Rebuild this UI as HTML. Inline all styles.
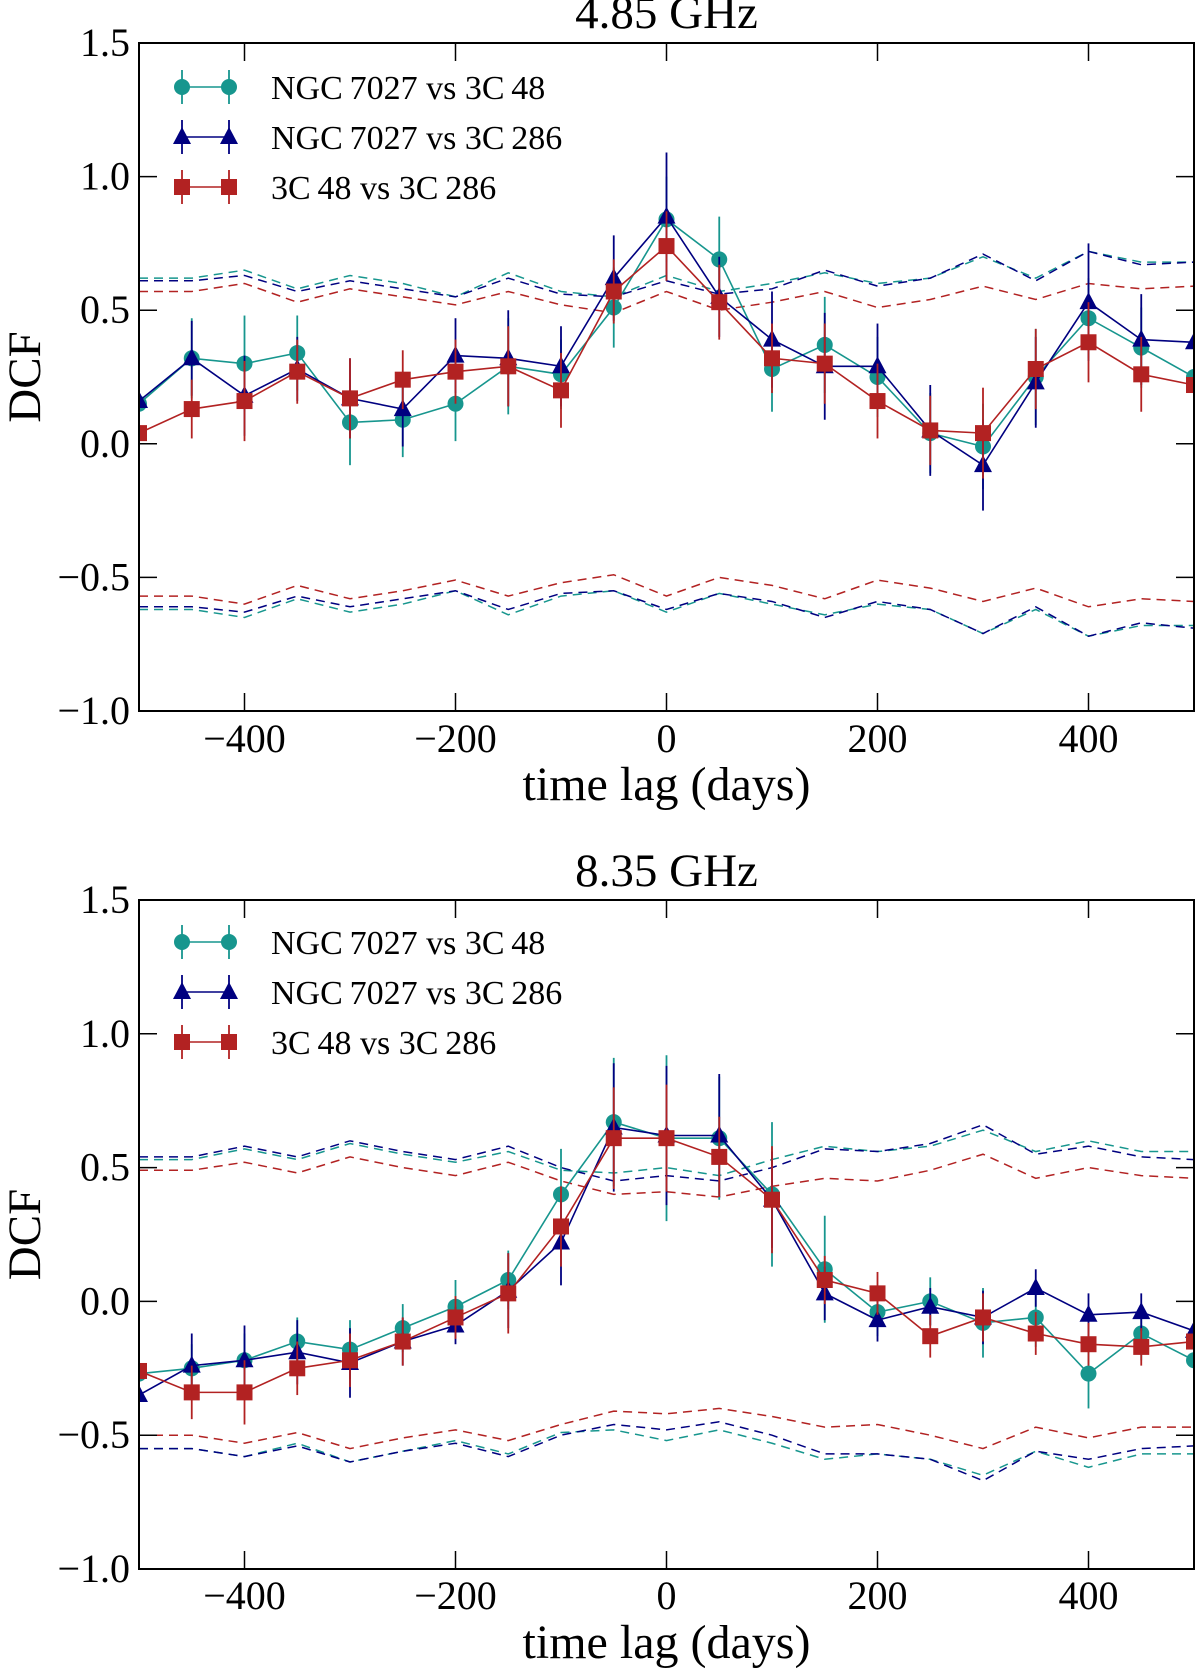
<!DOCTYPE html>
<html><head><meta charset="utf-8"><style>
html,body{margin:0;padding:0;background:#fff;}
svg{display:block;font-family:"Liberation Serif",serif;}
</style></head><body>
<svg id="chart" width="1200" height="1671" viewBox="0 0 1200 1671" xmlns="http://www.w3.org/2000/svg"></svg>
<script>
const lags = [-500,-450,-400,-350,-300,-250,-200,-150,-100,-50,0,50,100,150,200,250,300,350,400,450,500];
const xTicks = [-400,-200,0,200,400];
const yTicks = [-1.0,-0.5,0.0,0.5,1.0,1.5];
const yTickLabels = ["\u22121.0","\u22120.5","0.0","0.5","1.0","1.5"];
const seriesNames = ["NGC\u20097027 vs 3C\u200948","NGC\u20097027 vs 3C\u2009286","3C\u200948 vs 3C\u2009286"];
const panelTitles = ["4.85 GHz","8.35 GHz"];

// 4.85 GHz
const a_teal = [0.15,0.32,0.30,0.34,0.08,0.09,0.15,0.29,0.26,0.51,0.84,0.69,0.28,0.37,0.25,0.04,-0.01,0.25,0.47,0.36,0.25];
const a_navy = [0.16,0.32,0.18,0.28,0.17,0.13,0.33,0.32,0.29,0.62,0.85,0.55,0.39,0.29,0.29,0.05,-0.08,0.23,0.53,0.39,0.38];
const a_red  = [0.04,0.13,0.16,0.27,0.17,0.24,0.27,0.29,0.20,0.57,0.74,0.53,0.32,0.30,0.16,0.05,0.04,0.28,0.38,0.26,0.22];
const a_teal_err = [0.14,0.15,0.18,0.14,0.16,0.14,0.14,0.18,0.13,0.15,0.16,0.16,0.16,0.18,0.15,0.15,0.16,0.18,0.15,0.15,0.15];
const a_navy_err = [0.14,0.14,0.15,0.12,0.15,0.14,0.14,0.18,0.15,0.16,0.24,0.15,0.18,0.20,0.16,0.17,0.17,0.17,0.22,0.17,0.15];
const a_red_err  = [0.12,0.11,0.15,0.12,0.15,0.11,0.12,0.15,0.14,0.12,0.13,0.14,0.13,0.15,0.14,0.13,0.17,0.15,0.15,0.14,0.14];
const a_teal_up = [0.62,0.62,0.65,0.58,0.63,0.60,0.55,0.64,0.57,0.55,0.63,0.57,0.60,0.64,0.60,0.62,0.70,0.62,0.72,0.68,0.68];
const a_navy_up = [0.61,0.61,0.63,0.57,0.61,0.58,0.55,0.62,0.56,0.55,0.61,0.56,0.58,0.65,0.59,0.62,0.71,0.61,0.72,0.67,0.68];
const a_red_up  = [0.57,0.57,0.60,0.53,0.58,0.55,0.52,0.57,0.52,0.49,0.57,0.50,0.53,0.57,0.51,0.54,0.59,0.54,0.60,0.58,0.59];
const a_teal_lo = [-0.62,-0.62,-0.65,-0.58,-0.63,-0.60,-0.55,-0.64,-0.57,-0.55,-0.63,-0.56,-0.60,-0.64,-0.60,-0.62,-0.71,-0.62,-0.72,-0.68,-0.68];
const a_navy_lo = [-0.61,-0.61,-0.63,-0.57,-0.61,-0.58,-0.55,-0.62,-0.56,-0.55,-0.62,-0.56,-0.59,-0.65,-0.59,-0.62,-0.71,-0.61,-0.72,-0.67,-0.69];
const a_red_lo  = [-0.57,-0.57,-0.60,-0.53,-0.58,-0.55,-0.51,-0.57,-0.52,-0.49,-0.57,-0.50,-0.53,-0.58,-0.51,-0.54,-0.59,-0.54,-0.61,-0.58,-0.59];

// 8.35 GHz
const b_teal = [-0.27,-0.25,-0.22,-0.15,-0.18,-0.10,-0.02,0.08,0.40,0.67,0.61,0.61,0.40,0.12,-0.04,0.00,-0.08,-0.06,-0.27,-0.12,-0.22];
const b_navy = [-0.35,-0.24,-0.22,-0.19,-0.23,-0.15,-0.09,0.04,0.22,0.65,0.62,0.62,0.38,0.03,-0.07,-0.02,-0.06,0.05,-0.05,-0.04,-0.11];
const b_red  = [-0.26,-0.34,-0.34,-0.25,-0.22,-0.15,-0.06,0.03,0.28,0.61,0.61,0.54,0.38,0.08,0.03,-0.13,-0.06,-0.12,-0.16,-0.17,-0.15];
const b_teal_err = [0.10,0.09,0.10,0.09,0.11,0.09,0.10,0.11,0.17,0.24,0.31,0.23,0.27,0.20,0.09,0.09,0.13,0.11,0.13,0.10,0.10];
const b_navy_err = [0.12,0.12,0.13,0.12,0.13,0.09,0.07,0.14,0.16,0.24,0.26,0.23,0.18,0.10,0.08,0.07,0.10,0.07,0.08,0.07,0.09];
const b_red_err  = [0.09,0.10,0.12,0.10,0.10,0.09,0.08,0.15,0.15,0.19,0.20,0.15,0.20,0.09,0.08,0.08,0.09,0.08,0.08,0.07,0.07];
const b_teal_up = [0.53,0.53,0.57,0.53,0.59,0.55,0.52,0.56,0.49,0.48,0.50,0.47,0.53,0.58,0.56,0.58,0.64,0.56,0.60,0.56,0.56];
const b_navy_up = [0.54,0.54,0.58,0.54,0.60,0.56,0.53,0.58,0.50,0.45,0.47,0.45,0.50,0.57,0.56,0.59,0.66,0.55,0.58,0.54,0.53];
const b_red_up  = [0.49,0.49,0.52,0.48,0.54,0.50,0.47,0.52,0.45,0.40,0.41,0.39,0.43,0.46,0.45,0.49,0.55,0.46,0.50,0.47,0.46];
const b_teal_lo = [-0.55,-0.55,-0.58,-0.53,-0.60,-0.56,-0.52,-0.57,-0.49,-0.48,-0.52,-0.48,-0.53,-0.59,-0.57,-0.59,-0.65,-0.56,-0.62,-0.57,-0.57];
const b_navy_lo = [-0.55,-0.55,-0.58,-0.54,-0.60,-0.56,-0.53,-0.58,-0.50,-0.46,-0.48,-0.45,-0.50,-0.57,-0.57,-0.59,-0.67,-0.56,-0.59,-0.55,-0.54];
const b_red_lo  = [-0.50,-0.50,-0.53,-0.49,-0.55,-0.51,-0.48,-0.52,-0.46,-0.41,-0.42,-0.40,-0.43,-0.47,-0.46,-0.50,-0.55,-0.47,-0.51,-0.47,-0.47];

const NS = "http://www.w3.org/2000/svg";
const svg = document.getElementById('chart');
const colors = ["#17968e","#000080","#b22222"];
const markers = ["circle","triangle","square"];
function el(tag, attrs, parent){
  const e = document.createElementNS(NS, tag);
  for (const k in attrs) e.setAttribute(k, attrs[k]);
  (parent||svg).appendChild(e);
  return e;
}
const L = 139, R = 1194;
function xScale(v){ return L + (v + 500) / 1000 * (R - L); }

function drawMarker(g, kind, cx, cy, color){
  let m;
  if (kind === "circle") m = el('circle', {cx:cx, cy:cy, r:8, fill:color}, g);
  else if (kind === "triangle") m = el('polygon', {points:`${cx},${cy-10} ${cx-9},${cy+7} ${cx+9},${cy+7}`, fill:color}, g);
  else m = el('rect', {x:cx-8, y:cy-8, width:16, height:16, fill:color}, g);
  return m;
}

function panel(idx, top, bottom, vals, errs, ups, los, titleY, legendY, tickLabelY, xlabelY){
  function yScale(v){ return bottom - (v + 1.0) / 2.5 * (bottom - top); }
  const g = el('g', {});
  
  
  const clipId = 'clip' + idx;
  const cp = el('clipPath', {id: clipId}, g);
  el('rect', {x:L, y:top, width:R-L, height:bottom-top}, cp);
  const plot = el('g', {'clip-path': `url(#${clipId})`}, g);
  
  
  for (let s = 0; s < 3; s++){
    for (const arr of [ups[s], los[s]]){
      const pts = lags.map((x,i)=>`${xScale(x)},${yScale(arr[i])}`).join(' ');
      const pl = el('polyline', {points:pts, fill:'none', stroke:colors[s], 'stroke-width':1.5, 'stroke-dasharray':'9,6'}, plot);
      
      
    }
  }
  for (let s = 0; s < 3; s++){
    const sg = el('g', {}, plot);
    
    
    for (let i = 0; i < lags.length; i++){
      const x = xScale(lags[i]);
      const eb = el('line', {x1:x, x2:x, y1:yScale(vals[s][i]-errs[s][i]), y2:yScale(vals[s][i]+errs[s][i]), stroke:colors[s], 'stroke-width':1.8}, sg);
      
      
    }
    const pts = lags.map((x,i)=>`${xScale(x)},${yScale(vals[s][i])}`).join(' ');
    const ln = el('polyline', {points:pts, fill:'none', stroke:colors[s], 'stroke-width':1.6}, sg);
    
    
    for (let i = 0; i < lags.length; i++){
      const m = drawMarker(sg, markers[s], xScale(lags[i]), yScale(vals[s][i]), colors[s]);
      
      
    }
  }
  const fr = el('rect', {x:L, y:top, width:R-L, height:bottom-top, fill:'none', stroke:'#000', 'stroke-width':2}, g);
  
  
  for (const t of xTicks){
    const x = xScale(t);
    el('line', {x1:x, x2:x, y1:bottom, y2:bottom-18, stroke:'#000', 'stroke-width':1.5}, g);
    el('line', {x1:x, x2:x, y1:top, y2:top+18, stroke:'#000', 'stroke-width':1.5}, g);
    const tx = el('text', {x:x, y:tickLabelY, 'text-anchor':'middle', 'font-size':40}, g);
    tx.textContent = t < 0 ? '\u2212' + Math.abs(t) : String(t);
    
    
  }
  for (let i = 0; i < yTicks.length; i++){
    const y = yScale(yTicks[i]);
    el('line', {x1:L, x2:L+18, y1:y, y2:y, stroke:'#000', 'stroke-width':1.5}, g);
    el('line', {x1:R, x2:R-18, y1:y, y2:y, stroke:'#000', 'stroke-width':1.5}, g);
    const ty = el('text', {x:L-9, y:y+13, 'text-anchor':'end', 'font-size':40}, g);
    ty.textContent = yTickLabels[i];
    
    
  }
  const tt = el('text', {x:(L+R)/2, y:titleY, 'text-anchor':'middle', 'font-size':47}, g);
  tt.textContent = panelTitles[idx];
  
  
  const xl = el('text', {x:(L+R)/2, y:xlabelY, 'text-anchor':'middle', 'font-size':48}, g);
  xl.textContent = 'time lag (days)';
  
  
  const yc = (top+bottom)/2;
  const yl = el('text', {x:40, y:yc, 'text-anchor':'middle', 'font-size':47, transform:`rotate(-90 40 ${yc})`}, g);
  yl.textContent = 'DCF';
  
  
  for (let s = 0; s < 3; s++){
    const ly = legendY + s * 50;
    const lg = el('g', {}, g);
    
    
    el('line', {x1:182, x2:229, y1:ly, y2:ly, stroke:colors[s], 'stroke-width':1.6}, lg);
    for (const mx of [182,229]){
      el('line', {x1:mx, x2:mx, y1:ly-17, y2:ly+17, stroke:colors[s], 'stroke-width':1.8}, lg);
      drawMarker(lg, markers[s], mx, ly, colors[s]);
    }
    const lt = el('text', {x:271, y:ly+12, 'font-size':34}, lg);
    lt.textContent = seriesNames[s];
  }
}

panel(0, 43, 711, [a_teal,a_navy,a_red], [a_teal_err,a_navy_err,a_red_err], [a_teal_up,a_navy_up,a_red_up], [a_teal_lo,a_navy_lo,a_red_lo], 28, 87, 752, 800);
panel(1, 900, 1569, [b_teal,b_navy,b_red], [b_teal_err,b_navy_err,b_red_err], [b_teal_up,b_navy_up,b_red_up], [b_teal_lo,b_navy_lo,b_red_lo], 886, 942, 1609, 1658);
</script>
</body></html>
